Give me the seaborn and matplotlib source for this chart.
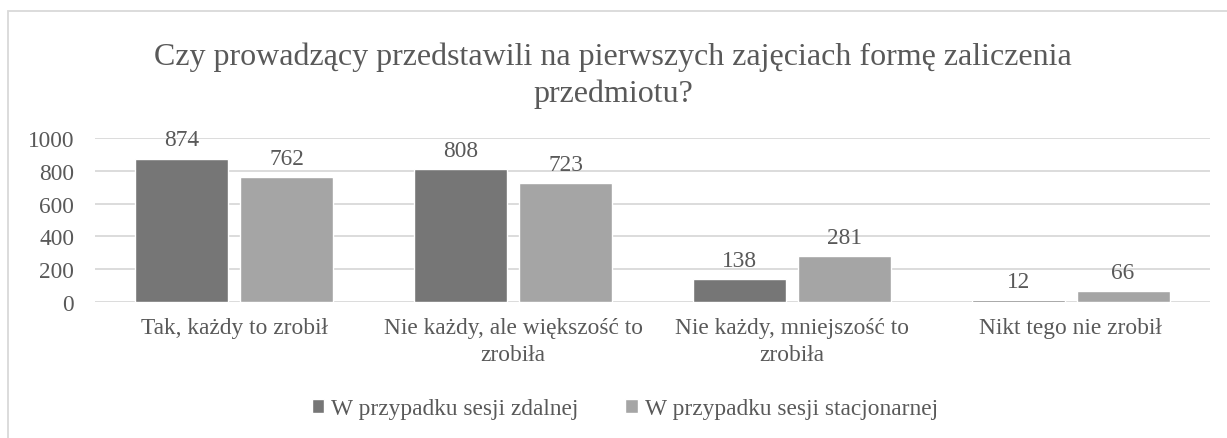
import pandas as pd
import matplotlib
matplotlib.use("Agg")
import matplotlib.pyplot as plt
import seaborn as sns
from matplotlib.patches import Rectangle

categories = ["Tak, każdy to zrobił", "Nie każdy, ale większość to\nzrobiła",
              "Nie każdy, mniejszość to\nzrobiła", "Nikt tego nie zrobił"]
series_names = ["W przypadku sesji zdalnej", "W przypadku sesji stacjonarnej"]
zdalnej = [874, 808, 138, 12]
stacjonarnej = [762, 723, 281, 66]
y_ticks = [0, 200, 400, 600, 800, 1000]
title = "Czy prowadzący przedstawili na pierwszych zajęciach formę zaliczenia\nprzedmiotu?"

df = pd.DataFrame({
    "kategoria": categories * 2,
    "seria": [series_names[0]] * 4 + [series_names[1]] * 4,
    "liczba": zdalnej + stacjonarnej,
})

sns.set_theme(style="white")
plt.rcParams["font.family"] = ["Liberation Serif", "DejaVu Serif"]
text_color = "#595959"
grid_color = "#d9d9d9"
fs = 16.8

W, H = 1227, 439
fig = plt.figure(figsize=(W / 100, H / 100), dpi=100)
ax = fig.add_axes([95 / W, (H - 303) / H, (1210 - 95) / W, (303 - 139) / H])

sns.barplot(data=df, x="kategoria", y="liczba", hue="seria", order=categories,
            hue_order=series_names, palette=["#767676", "#a5a5a5"],
            width=0.753, gap=0.113, saturation=1, ax=ax, legend=True)

ax.set_ylim(0, 1000)
ax.set_yticks(y_ticks)
ax.set_xlim(-0.5, len(categories) - 0.5)
ax.yaxis.grid(True, color=grid_color, linewidth=1.3)
ax.set_axisbelow(True)
for s in ax.spines.values():
    s.set_visible(False)
ax.tick_params(axis="both", length=0, colors=text_color, labelsize=fs)
ax.tick_params(axis="x", pad=11)
ax.tick_params(axis="y", pad=15)
for lbl in ax.get_xticklabels():
    lbl.set_linespacing(1.35)
ax.set_xlabel("")
ax.set_ylabel("")

for cont in ax.containers:
    ax.bar_label(cont, padding=6, fontsize=fs, color=text_color, clip_on=False)

ax.get_legend().remove()
handles, labels = ax.get_legend_handles_labels()
fig.legend(handles, labels, loc="center", bbox_to_anchor=(625 / W, 1 - 410 / H),
           ncol=2, frameon=False, fontsize=fs, labelcolor=text_color,
           handlelength=0.55, handleheight=0.55, handletextpad=0.3, columnspacing=2.0)

fig.text(613 / W, 1 - 76 / H, title, ha="center", va="center", fontsize=23,
         color=text_color, linespacing=1.32)

fig.patches.append(Rectangle((8 / W, -0.1), 1.2, 1 - 12 / H + 0.1, transform=fig.transFigure,
                             fill=False, edgecolor=grid_color, linewidth=1.3))

fig.savefig("out.png", dpi=100)
